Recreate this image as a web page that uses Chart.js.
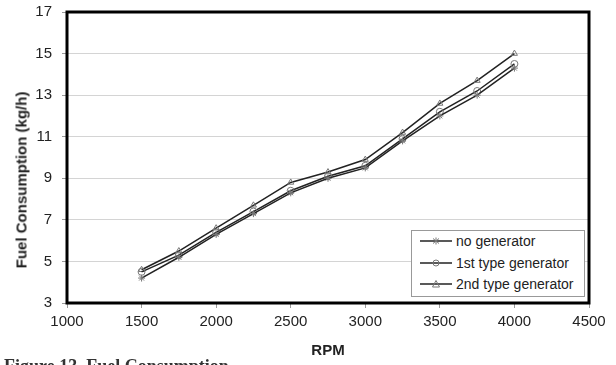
<!DOCTYPE html>
<html>
<head>
<meta charset="utf-8">
<script src="https://cdn.jsdelivr.net/npm/chart.js@4/dist/chart.umd.min.js"></script>
<style>
  html, body { margin: 0; padding: 0; background: #fff; }
  #wrap { position: relative; width: 616px; height: 365px; overflow: hidden; font-family: "Liberation Sans", Arial, sans-serif; }
  #c { position: absolute; left: 0; top: 0; }
  #ytitle { position: absolute; left: 21px; top: 180px; transform: translate(-50%, -50%) rotate(-90deg); white-space: nowrap; font-weight: bold; font-size: 15px; color: #222; }
  #legend { position: absolute; left: 411px; top: 230px; width: 172px; height: 65px; border: 1px solid #999; background: #fff; }
  .row { position: absolute; left: 8px; height: 16px; display: flex; align-items: center; font-size: 14px; color: #222; white-space: nowrap; }
  .row svg { margin-right: 4px; }
  #caption { position: absolute; left: 4px; top: 357px; font-family: "Liberation Serif", "Times New Roman", serif; font-weight: bold; font-size: 18px; line-height: 1; color: #333; white-space: nowrap; }
</style>
</head>
<body>
<div id="wrap">
  <canvas id="c" width="616" height="365"></canvas>
  <div id="ytitle">Fuel Consumption (kg/h)</div>
  <div id="legend"></div>
  <div id="caption">Figure 13. Fuel Consumption</div>
</div>
<script>
const rpm = [1500, 1750, 2000, 2250, 2500, 2750, 3000, 3250, 3500, 3750, 4000];
const noGenerator   = [4.2, 5.2, 6.3, 7.3, 8.3, 9.0, 9.5, 10.8, 12.0, 13.0, 14.3];
const firstTypeGen  = [4.5, 5.3, 6.4, 7.4, 8.4, 9.1, 9.6, 10.9, 12.2, 13.2, 14.5];
const secondTypeGen = [4.6, 5.5, 6.6, 7.7, 8.8, 9.3, 9.9, 11.2, 12.6, 13.7, 15.0];
const seriesNames = ["no generator", "1st type generator", "2nd type generator"];
const seriesStyles = ["star", "circle", "triangle"];
const xTicks = [1000, 1500, 2000, 2500, 3000, 3500, 4000, 4500];
const yTicks = [3, 5, 7, 9, 11, 13, 15, 17];

const seriesValues = [noGenerator, firstTypeGen, secondTypeGen];

const datasets = seriesValues.map((vals, i) => ({
  label: seriesNames[i],
  data: rpm.map((x, j) => ({ x: x, y: vals[j] })),
  borderColor: '#222',
  borderWidth: 1.5,
  pointStyle: seriesStyles[i],
  pointRadius: 3.5,
  pointBorderColor: '#777',
  pointBorderWidth: 1,
  pointBackgroundColor: 'rgba(255,255,255,0)',
  tension: 0,
  fill: false
}));

const frame = {
  id: 'frame',
  afterDraw(chart) {
    const { ctx, chartArea: a } = chart;
    ctx.save();
    ctx.strokeStyle = '#000';
    ctx.lineWidth = 3;
    ctx.strokeRect(a.left, a.top, a.right - a.left, a.bottom - a.top);
    ctx.restore();
  }
};

const tickFont = { family: '"Liberation Sans", Arial, sans-serif', size: 15 };

new Chart(document.getElementById('c'), {
  type: 'line',
  data: { datasets },
  plugins: [frame],
  options: {
    responsive: false,
    animation: false,
    layout: { padding: { top: 12, right: 27, left: 0, bottom: 0 } },
    plugins: { legend: { display: false }, tooltip: { enabled: false } },
    scales: {
      x: {
        type: 'linear',
        min: xTicks[0], max: xTicks[xTicks.length - 1],
        afterBuildTicks: s => { s.ticks = xTicks.map(v => ({ value: v })); },
        afterFit: s => { s.height = 62; s.paddingLeft = 0; s.paddingRight = 0; },
        grid: { drawOnChartArea: false, tickLength: 5, color: '#999' },
        border: { display: false },
        ticks: { font: tickFont, color: '#222', padding: 5, maxRotation: 0, callback: v => String(v) },
        title: { display: true, text: 'RPM', font: { family: '"Liberation Sans", Arial, sans-serif', size: 15, weight: 'bold' }, color: '#222', padding: { top: 0, bottom: 5 } }
      },
      y: {
        min: yTicks[0], max: yTicks[yTicks.length - 1],
        afterBuildTicks: s => { s.ticks = yTicks.map(v => ({ value: v })); },
        afterFit: s => { s.width = 67; s.paddingTop = 0; s.paddingBottom = 0; },
        grid: { color: '#d4d4d4', lineWidth: 1, tickLength: 5, tickColor: '#999' },
        border: { display: false },
        ticks: { font: tickFont, color: '#222', padding: 10, callback: v => String(v) }
      }
    }
  }
});

// HTML legend
const legendEl = document.getElementById('legend');
const rowTops = [2, 24, 45];
function markerSvg(style) {
  let m = '';
  if (style === 'star') {
    m = '<path d="M16 2.5 V9.5 M13 3.5 L19 8.5 M19 3.5 L13 8.5" stroke="#777" stroke-width="1" fill="none"/>';
  } else if (style === 'circle') {
    m = '<circle cx="16" cy="6" r="3" stroke="#777" stroke-width="1" fill="none"/>';
  } else {
    m = '<path d="M16 2.5 L19.5 9 L12.5 9 Z" stroke="#777" stroke-width="1" fill="none"/>';
  }
  return '<svg width="32" height="12" viewBox="0 0 32 12"><line x1="0" y1="6" x2="32" y2="6" stroke="#222" stroke-width="1.5"/>' + m + '</svg>';
}
seriesNames.forEach((name, i) => {
  const row = document.createElement('div');
  row.className = 'row';
  row.style.top = rowTops[i] + 'px';
  row.innerHTML = markerSvg(seriesStyles[i]) + '<span>' + name + '</span>';
  legendEl.appendChild(row);
});
</script>
</body>
</html>
